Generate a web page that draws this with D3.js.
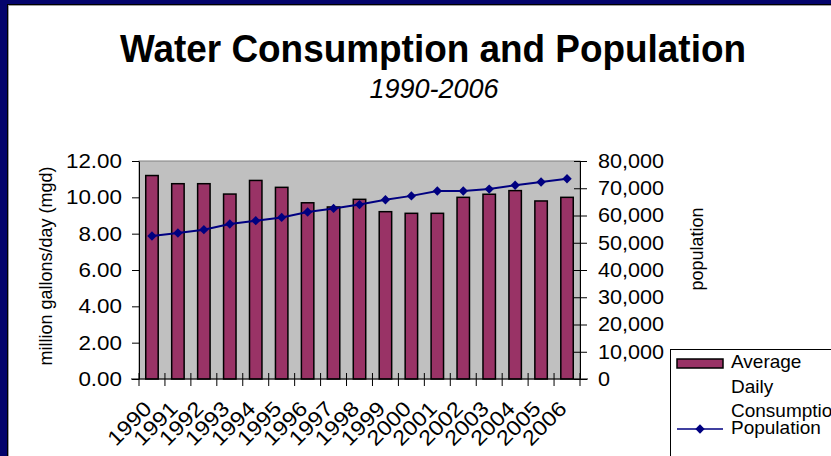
<!DOCTYPE html>
<html>
<head>
    <meta charset="utf-8">
    <script src="https://d3js.org/d3.v7.min.js"></script>
    <style>
        body { margin: 0; background: #fff; }
        svg { display: block; font-family: "Liberation Sans", Arial, sans-serif; }
    </style>
</head>
<body>
    <svg id="chart" width="831" height="456"></svg>

    <script>
        // chart data
        const years = ["1990", "1991", "1992", "1993", "1994", "1995", "1996", "1997", "1998",
                       "1999", "2000", "2001", "2002", "2003", "2004", "2005", "2006"];
        const consumption = [11.2, 10.75, 10.75, 10.18, 10.93, 10.55, 9.7, 9.47, 9.89,
                             9.21, 9.12, 9.12, 10.0, 10.17, 10.37, 9.8, 10.0];
        const population = [52500, 53600, 54800, 56900, 58100, 59300, 61300, 62600, 64000,
                            65800, 67200, 69000, 69000, 69700, 71100, 72300, 73500];
        const leftTicks = [0, 2, 4, 6, 8, 10, 12];
        const rightTicks = [0, 10000, 20000, 30000, 40000, 50000, 60000, 70000, 80000];

        const svg = d3.select("#chart");

        // the slide text is a bit wider than Arial, stretch it sideways
        function widen(sel, k) {
            sel.each(function() {
                const w = this.getComputedTextLength();
                d3.select(this).attr("textLength", w * k).attr("lengthAdjust", "spacingAndGlyphs");
            });
        }

        // slide frame (blue edge at left and top)
        svg.append("rect").attr("x", 0).attr("y", 0).attr("width", 831).attr("height", 5).attr("fill", "#04046c");
        svg.append("rect").attr("x", 0).attr("y", 0).attr("width", 8).attr("height", 456).attr("fill", "#04046c");
        svg.append("line").attr("x1", 7.5).attr("x2", 7.5).attr("y1", 4).attr("y2", 456).attr("stroke", "#000");
        svg.append("line").attr("x1", 7).attr("x2", 831).attr("y1", 4.5).attr("y2", 4.5).attr("stroke", "#000");
        svg.append("line").attr("x1", 8.5).attr("x2", 8.5).attr("y1", 5).attr("y2", 456).attr("stroke", "#a0a0a0");
        svg.append("line").attr("x1", 8).attr("x2", 831).attr("y1", 5.5).attr("y2", 5.5).attr("stroke", "#a0a0a0");

        // titles
        svg.append("text")
            .attr("x", 433).attr("y", 62)
            .attr("text-anchor", "middle")
            .attr("font-size", 38).attr("font-weight", "bold")
            .attr("textLength", 626).attr("lengthAdjust", "spacingAndGlyphs")
            .text("Water Consumption and Population");
        svg.append("text")
            .attr("x", 434).attr("y", 98)
            .attr("text-anchor", "middle")
            .attr("font-size", 27).attr("font-style", "italic")
            .text("1990-2006");

        // scales
        const plot = { left: 139, right: 580, top: 161, bottom: 379 };
        const x = d3.scaleBand().domain(years).range([plot.left, plot.right]).padding(0);
        const yL = d3.scaleLinear().domain([0, 12]).range([plot.bottom, plot.top]);
        const yR = d3.scaleLinear().domain([0, 80000]).range([plot.bottom, plot.top]);

        // plot area
        svg.append("rect")
            .attr("x", plot.left).attr("y", plot.top)
            .attr("width", plot.right - plot.left).attr("height", plot.bottom - plot.top)
            .attr("fill", "#c0c0c0").attr("stroke", "#808080");

        // bars
        const barW = x.bandwidth() * 0.48;
        svg.append("g")
            .selectAll("rect")
            .data(years)
            .join("rect")
                .attr("x", (d) => x(d) + (x.bandwidth() - barW) / 2)
                .attr("y", (d, i) => yL(consumption[i]))
                .attr("width", barW)
                .attr("height", (d, i) => yL(0) - yL(consumption[i]))
                .attr("fill", "#993366")
                .attr("stroke", "#000").attr("stroke-width", 1.5);

        // left axis
        const gL = svg.append("g")
            .attr("transform", `translate(${plot.left},0)`)
            .call(d3.axisLeft(yL).tickValues(leftTicks).tickFormat(d3.format(".2f"))
                .tickSizeInner(7).tickSizeOuter(0).tickPadding(10));
        gL.attr("font-family", null).attr("font-size", null);
        gL.selectAll("text").attr("font-size", 20).attr("fill", "#000").call(widen, 1.12);

        // right axis
        const gR = svg.append("g")
            .attr("transform", `translate(${plot.right},0)`)
            .call(d3.axisRight(yR).tickValues(rightTicks).tickFormat(d3.format(","))
                .tickSizeInner(7).tickSizeOuter(0).tickPadding(11));
        gR.attr("font-family", null).attr("font-size", null);
        gR.selectAll(".tick line").attr("x1", -6);
        gR.selectAll("text").attr("font-size", 20).attr("fill", "#000").call(widen, 1.08);

        // bottom axis: labels at band centres, ticks on band edges
        const gB = svg.append("g")
            .attr("transform", `translate(0,${plot.bottom})`)
            .call(d3.axisBottom(x).tickSize(0).tickSizeOuter(0));
        gB.attr("font-family", null).attr("font-size", null);
        gB.select(".domain").attr("d", `M${plot.left - 8},0H${plot.right + 8}`);
        gB.selectAll("text")
            .attr("y", 0).attr("dy", 0)
            .attr("transform", "translate(1,31) rotate(-45)")
            .attr("text-anchor", "end")
            .attr("font-size", 21).attr("fill", "#000")
            .call(widen, 1.12);
        gB.selectAll("line.edge")
            .data(years.concat(["end"]))
            .join("line")
                .attr("class", "edge")
                .attr("x1", (d) => d === "end" ? plot.right : x(d))
                .attr("x2", (d) => d === "end" ? plot.right : x(d))
                .attr("y1", -6).attr("y2", 7)
                .attr("stroke", "#000");

        // population line
        const line = d3.line()
            .x((d, i) => x(years[i]) + x.bandwidth() / 2)
            .y((d) => yR(d));
        svg.append("path")
            .datum(population)
            .attr("d", line)
            .attr("fill", "none")
            .attr("stroke", "#000080").attr("stroke-width", 2);
        const diamond = d3.symbol().type(d3.symbolSquare).size(44);
        svg.append("g")
            .selectAll("path")
            .data(population)
            .join("path")
                .attr("d", diamond)
                .attr("transform", (d, i) => `translate(${x(years[i]) + x.bandwidth() / 2},${yR(d)}) rotate(45)`)
                .attr("fill", "#000080");

        // axis titles
        svg.append("text")
            .attr("transform", "translate(52,266) rotate(-90)")
            .attr("text-anchor", "middle")
            .attr("font-size", 18)
            .text("million gallons/day (mgd)");
        svg.append("text")
            .attr("transform", "translate(703,249) rotate(-90)")
            .attr("text-anchor", "middle")
            .attr("font-size", 18)
            .text("population");

        // legend (runs off the right edge, as in the slide)
        const lg = svg.append("g").attr("transform", "translate(670,349)");
        lg.append("rect")
            .attr("x", 0.5).attr("y", 0.5).attr("width", 200).attr("height", 140)
            .attr("fill", "#fff").attr("stroke", "#000");
        lg.append("rect")
            .attr("x", 7).attr("y", 10).attr("width", 46).attr("height", 9)
            .attr("fill", "#993366").attr("stroke", "#000").attr("stroke-width", 1.5);
        lg.append("line")
            .attr("x1", 7).attr("x2", 53).attr("y1", 80).attr("y2", 80)
            .attr("stroke", "#000080").attr("stroke-width", 1.5);
        lg.append("path")
            .attr("d", diamond)
            .attr("transform", "translate(30,80) rotate(45)")
            .attr("fill", "#000080");
        const legendLines = [["Average", 19], ["Daily", 44], ["Consumption", 68], ["Population", 85]];
        lg.selectAll("text.item")
            .data(legendLines)
            .join("text")
                .attr("class", "item")
                .attr("x", 61).attr("y", (d) => d[1])
                .attr("font-size", 19)
                .text((d) => d[0]);
    </script>
</body>
</html>
